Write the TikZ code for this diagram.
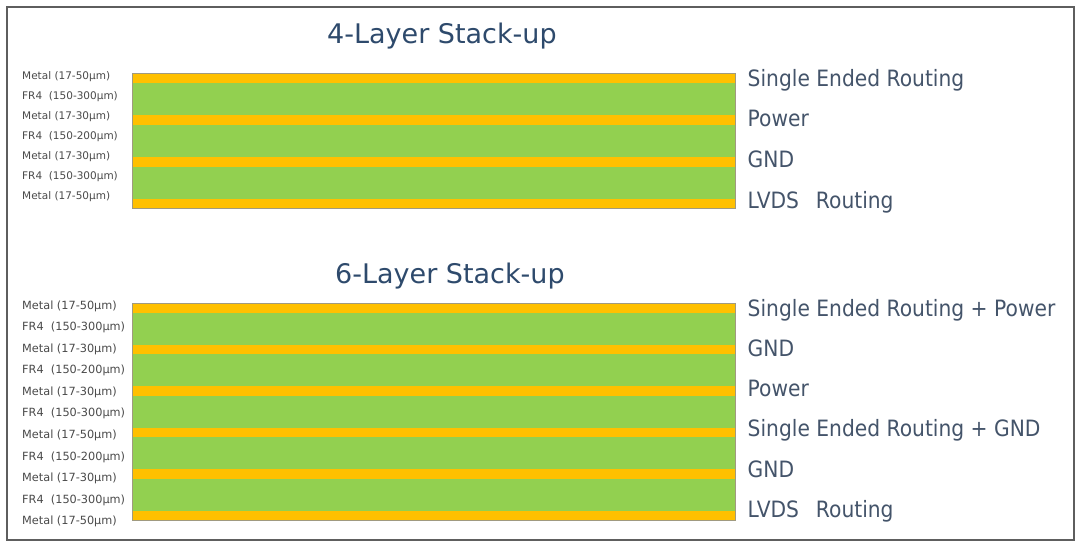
\documentclass[tikz,border=0pt]{standalone}
\usepackage{fontspec}
\setmainfont{DejaVu Sans}
\newfontfamily\rlabfont[FakeStretch=0.9]{DejaVu Sans}
\definecolor{metal}{HTML}{FFC000}
\definecolor{frfour}{HTML}{92D050}
\definecolor{titlec}{HTML}{2E4A6C}
\definecolor{rlab}{HTML}{44546A}
\definecolor{llab}{HTML}{4A4A4A}
\definecolor{framec}{HTML}{5E5E5E}
\definecolor{stackedge}{HTML}{A09A80}
\begin{document}
\begin{tikzpicture}[x=1pt,y=-1pt,
  title/.style={anchor=base west, inner sep=0pt, text=titlec, font=\fontsize{27}{27}\selectfont},
  rlabel/.style={anchor=base west, inner sep=0pt, text=rlab, font=\rlabfont\fontsize{22.5}{22.5}\selectfont},
  llabA/.style={anchor=west, inner sep=0pt, text=llab, font=\fontsize{10.5}{10.5}\selectfont},
  llabB/.style={anchor=west, inner sep=0pt, text=llab, font=\fontsize{11.3}{11.3}\selectfont},
  frame/.style={draw=framec, line width=2.4pt},
  edge/.style={draw=stackedge, line width=0.8pt}]
\useasboundingbox (0,0) rectangle (1080,546);
\fill[white] (0,0) rectangle (1080,546);
\draw[frame] (7,7) rectangle (1074,540);

% titles
\node[title] (t4) at (327,43.5) {4-Layer Stack-up};
\node[title] (t6) at (335,283.5) {6-Layer Stack-up};

% 4-layer stack
\foreach \i in {0,...,3} {\fill[metal] (132,{73+\i*42}) rectangle (735,{73+\i*42+9.5});}
\foreach \i in {0,...,2} {\fill[frfour] (132,{82.5+\i*42}) rectangle (735,{82.5+\i*42+32.5});}
\draw[edge] (132,73) rectangle (735,208.5);

% 6-layer stack
\foreach \i in {0,...,5} {\fill[metal] (132,{303+\i*41.5}) rectangle (735,{303+\i*41.5+9.5});}
\foreach \i in {0,...,4} {\fill[frfour] (132,{312.5+\i*41.5}) rectangle (735,{312.5+\i*41.5+32});}
\draw[edge] (132,303) rectangle (735,520);

% left labels 4-layer
\foreach \t [count=\i from 0] in {{Metal (17-50µm)},{FR4 \ (150-300µm)},{Metal (17-30µm)},{FR4 \ (150-200µm)},{Metal (17-30µm)},{FR4 \ (150-300µm)},{Metal (17-50µm)}}
  {\node[llabA] (a\i) at (22,{77+\i*19.9}) {\t};}

% left labels 6-layer
\foreach \t [count=\i from 0] in {{Metal (17-50µm)},{FR4 \ (150-300µm)},{Metal (17-30µm)},{FR4 \ (150-200µm)},{Metal (17-30µm)},{FR4 \ (150-300µm)},{Metal (17-50µm)},{FR4 \ (150-200µm)},{Metal (17-30µm)},{FR4 \ (150-300µm)},{Metal (17-50µm)}}
  {\node[llabB] (b\i) at (22,{306+\i*21.57}) {\t};}

% right labels 4-layer
\node[rlabel] (r41) at (747.5,86.7) {Single Ended Routing};
\node[rlabel] (r42) at (747.5,126.7) {Power};
\node[rlabel] (r43) at (747.5,167.3) {GND};
\node[rlabel] (r44) at (747.5,208.3) {LVDS\hspace{0.75em}Routing};

% right labels 6-layer
\node[rlabel] (r61) at (747.5,316.7) {Single Ended Routing + Power};
\node[rlabel] (r62) at (747.5,356.5) {GND};
\node[rlabel] (r63) at (747.5,396.5) {Power};
\node[rlabel] (r64) at (747.5,436.7) {Single Ended Routing + GND};
\node[rlabel] (r65) at (747.5,477.3) {GND};
\node[rlabel] (r66) at (747.5,517) {LVDS\hspace{0.75em}Routing};
\end{tikzpicture}
\end{document}
